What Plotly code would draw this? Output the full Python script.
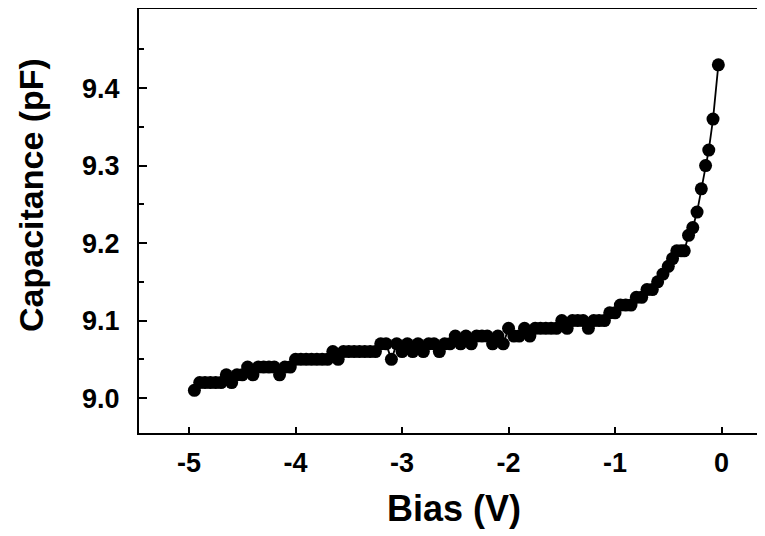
import plotly.graph_objects as go

bias_v = [-4.95, -4.90, -4.85, -4.80, -4.75, -4.70, -4.65, -4.60, -4.55, -4.50,
          -4.45, -4.40, -4.35, -4.30, -4.25, -4.20, -4.15, -4.10, -4.05, -4.00,
          -3.95, -3.90, -3.85, -3.80, -3.75, -3.70, -3.65, -3.60, -3.55, -3.50,
          -3.45, -3.40, -3.35, -3.30, -3.25, -3.20, -3.15, -3.10, -3.05, -3.00,
          -2.95, -2.90, -2.85, -2.80, -2.75, -2.70, -2.65, -2.60, -2.55, -2.50,
          -2.45, -2.40, -2.35, -2.30, -2.25, -2.20, -2.15, -2.10, -2.05, -2.00,
          -1.95, -1.90, -1.85, -1.80, -1.75, -1.70, -1.65, -1.60, -1.55, -1.50,
          -1.45, -1.40, -1.35, -1.30, -1.25, -1.20, -1.15, -1.10, -1.05, -1.00,
          -0.95, -0.90, -0.85, -0.80, -0.75, -0.70, -0.65, -0.60, -0.55, -0.50,
          -0.46, -0.42, -0.38, -0.35, -0.31, -0.27, -0.23, -0.19, -0.15, -0.12,
          -0.08, -0.03]

capacitance_pf = [9.01, 9.02, 9.02, 9.02, 9.02, 9.02, 9.03, 9.02, 9.03, 9.03,
                  9.04, 9.03, 9.04, 9.04, 9.04, 9.04, 9.03, 9.04, 9.04, 9.05,
                  9.05, 9.05, 9.05, 9.05, 9.05, 9.05, 9.06, 9.05, 9.06, 9.06,
                  9.06, 9.06, 9.06, 9.06, 9.06, 9.07, 9.07, 9.05, 9.07, 9.06,
                  9.07, 9.06, 9.07, 9.06, 9.07, 9.07, 9.06, 9.07, 9.07, 9.08,
                  9.07, 9.08, 9.07, 9.08, 9.08, 9.08, 9.07, 9.08, 9.07, 9.09,
                  9.08, 9.08, 9.09, 9.08, 9.09, 9.09, 9.09, 9.09, 9.09, 9.10,
                  9.09, 9.10, 9.10, 9.10, 9.09, 9.10, 9.10, 9.10, 9.11, 9.11,
                  9.12, 9.12, 9.12, 9.13, 9.13, 9.14, 9.14, 9.15, 9.16, 9.17,
                  9.18, 9.19, 9.19, 9.19, 9.21, 9.22, 9.24, 9.27, 9.30, 9.32,
                  9.36, 9.43]

x_ticks = [-5, -4, -3, -2, -1, 0]
x_tick_labels = ["-5", "-4", "-3", "-2", "-1", "0"]
y_ticks = [9.0, 9.1, 9.2, 9.3, 9.4]
y_tick_labels = ["9.0", "9.1", "9.2", "9.3", "9.4"]
y_minor_ticks = [8.95, 9.05, 9.15, 9.25, 9.35, 9.45]

FONT = "Liberation Sans, Arial, sans-serif"

# The page body adds an 8px offset; figure is sized to fill the rest of the window.
W, H = 757, 528
L, R, T, B = 131, 0, 1, 103
pw = W - L - R
ph = H - T - B

fig = go.Figure()
fig.add_trace(go.Scatter(
    x=bias_v, y=capacitance_pf, mode="lines+markers",
    line=dict(color="black", width=1.8),
    marker=dict(color="black", size=13, line=dict(width=0)),
    showlegend=False,
))

fig.update_layout(
    width=W, height=H,
    margin=dict(l=L, r=R, t=T, b=B, autoexpand=False),
    paper_bgcolor="white", plot_bgcolor="white",
    font=dict(family=FONT, color="black"),
    xaxis=dict(
        range=[-5.47, 0.408], tickvals=x_ticks, ticktext=x_tick_labels,
        ticks="inside", ticklen=6, tickwidth=1.5, tickcolor="black",
        showline=True, linecolor="black", linewidth=2, mirror=True,
        showgrid=False, zeroline=False,
        tickfont=dict(family=FONT, size=27, weight="bold"),
        ticklabelstandoff=5,
    ),
    yaxis=dict(
        range=[8.955, 9.502], tickvals=y_ticks, ticktext=y_tick_labels,
        ticks="inside", ticklen=8, tickwidth=1.5, tickcolor="black",
        minor=dict(tickvals=y_minor_ticks, ticks="inside",
                   ticklen=5, tickwidth=1.5, tickcolor="black"),
        showline=True, linecolor="black", linewidth=2, mirror=False,
        showgrid=False, zeroline=False,
        tickfont=dict(family=FONT, size=27, weight="bold"),
        ticklabelstandoff=12,
    ),
    annotations=[
        dict(text="Bias (V)", xref="paper", yref="paper",
             x=(446 - L) / pw, y=(H - B - 500) / ph,
             xanchor="center", yanchor="middle", showarrow=False,
             font=dict(family=FONT, size=36, weight="bold")),
        dict(text="Capacitance (pF)", xref="paper", yref="paper",
             x=(23 - L) / pw, y=(H - B - 187) / ph,
             xanchor="center", yanchor="middle", showarrow=False,
             textangle=-90, font=dict(family=FONT, size=34, weight="bold")),
    ],
)

fig.write_html("out.html")
